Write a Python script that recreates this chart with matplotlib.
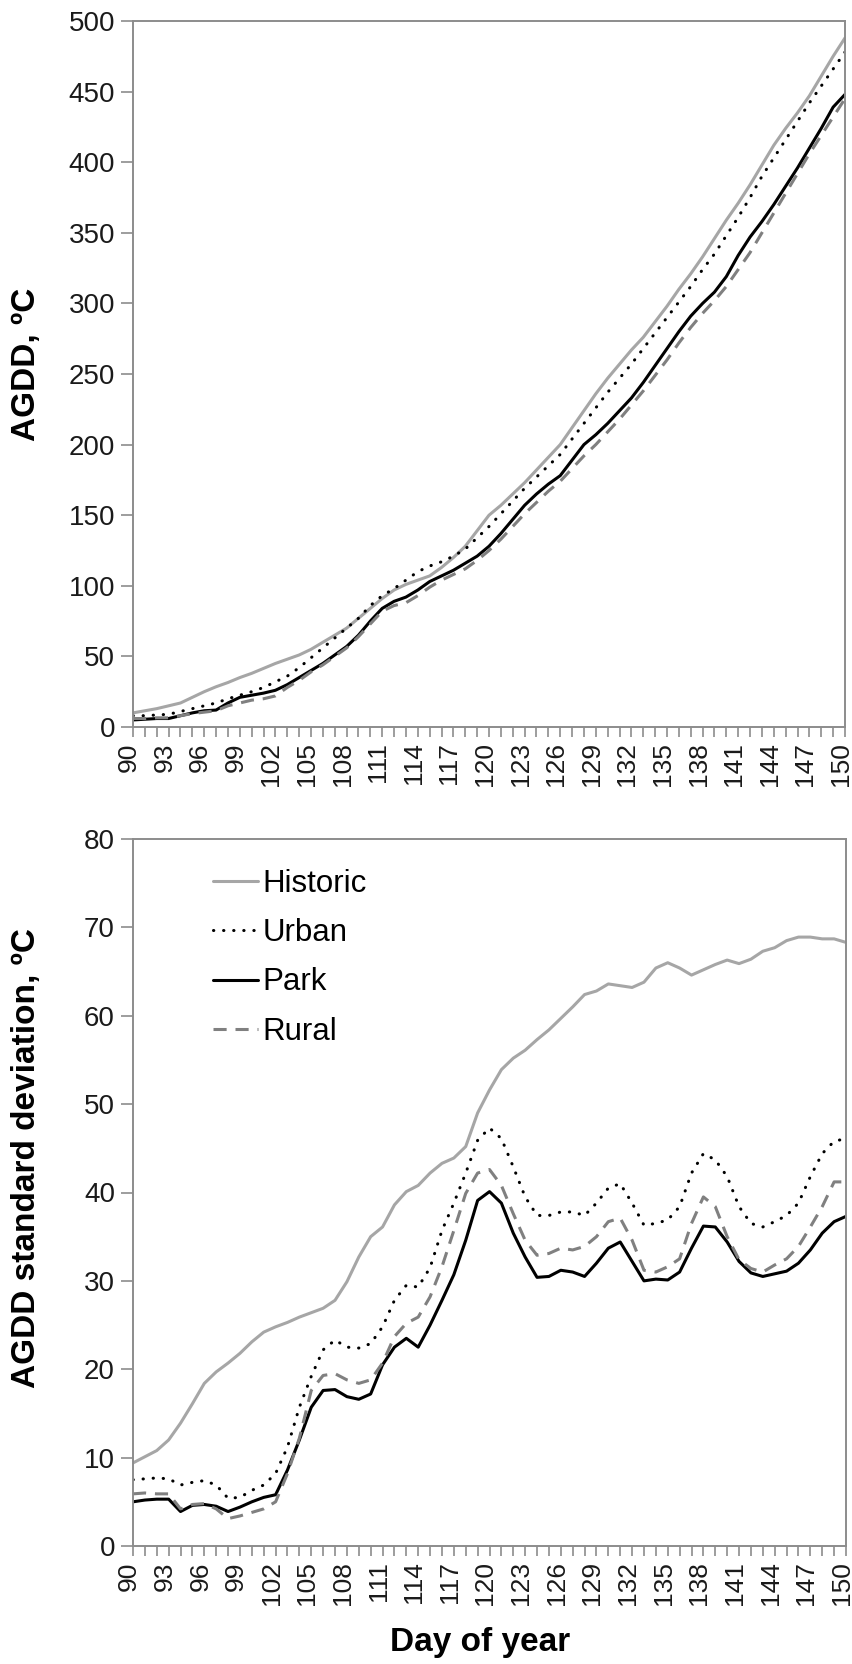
import numpy as np
import matplotlib
matplotlib.use("Agg")
import matplotlib.pyplot as plt
import matplotlib.transforms as mtransforms
from matplotlib.ticker import MultipleLocator

plt.rcParams['font.family'] = ['Liberation Sans', 'DejaVu Sans']

days = np.arange(90, 151)

# accumulated growing degree days, deg C
agdd_historic = [10, 11.5, 13, 15, 17, 21, 25, 28.5, 31.5, 35, 38, 41.5, 45, 48, 51, 55, 60, 65, 70, 77,
                 84, 91, 97, 101, 104, 107, 113, 120, 128, 139, 150, 157, 165, 173, 182, 191, 200, 212, 224, 236,
                 247, 257, 267, 276, 287, 298, 310, 321, 333, 346, 359, 371, 384, 398, 412, 424, 435, 447, 461, 475,
                 488]
agdd_urban = [8, 8, 8.5, 9, 11, 13, 15, 17, 20, 22.5, 25, 28, 32, 36, 42, 49, 56, 63, 70, 77,
              86, 93, 98, 104, 110, 114, 117, 121, 126, 134, 142, 151, 160, 169, 177, 185, 193, 204, 215, 226,
              237, 247, 257, 268, 279, 290, 301, 312, 324, 335, 348, 361, 375, 390, 403, 416, 429, 442, 454, 466,
              478]
agdd_park = [5, 5.5, 6, 6, 8, 10, 11.5, 12, 17, 21, 22.5, 24, 26, 30, 35, 40, 45, 51, 57, 65,
             75, 84, 89, 92, 97, 103, 107, 111, 116, 121, 128, 137, 147, 157, 165, 172, 178, 189, 200, 207,
             215, 224, 233, 244, 256, 268, 280, 291, 300, 308, 319, 334, 347, 358, 370, 383, 396, 410, 424, 439,
             448]
agdd_rural = [6, 6, 6.5, 6.5, 8, 9.5, 10.5, 11.5, 15, 17, 19, 20, 22, 28, 33, 39, 44, 50, 56, 64,
              73, 82, 86, 88, 93, 99, 104, 108, 112, 118, 125, 133, 142, 151, 159, 167, 174, 183, 192, 200,
              209, 218, 228, 238, 249, 260, 272, 283, 293, 302, 312, 324, 336, 350, 364, 378, 392, 406, 419, 432,
              445]

# standard deviation of AGDD, deg C
sd_historic = [9.4, 10.1, 10.8, 12.0, 13.9, 16.1, 18.4, 19.7, 20.7, 21.8, 23.1, 24.2, 24.8, 25.3, 25.9, 26.4,
               26.9, 27.8, 29.9, 32.7, 35.0, 36.1, 38.6, 40.1, 40.8, 42.2, 43.3, 43.9, 45.2, 49.0, 51.6, 53.9,
               55.2, 56.1, 57.3, 58.4, 59.7, 61.0, 62.4, 62.8, 63.6, 63.4, 63.2, 63.8, 65.4, 66.0, 65.4, 64.6,
               65.2, 65.8, 66.3, 65.9, 66.4, 67.3, 67.7, 68.5, 68.9, 68.9, 68.7, 68.7, 68.3]
sd_urban = [7.5, 7.6, 7.7, 7.6, 6.9, 7.2, 7.4, 6.9, 5.4, 5.5, 6.3, 6.9, 8.2, 11.2, 15.7, 19.2,
            22.2, 23.3, 22.5, 22.4, 22.9, 24.8, 27.8, 29.5, 29.3, 31.5, 35.7, 38.8, 42.2, 45.9, 47.3, 46.1,
            42.9, 39.5, 37.4, 37.4, 37.8, 37.8, 37.4, 38.8, 40.5, 41.0, 38.8, 36.3, 36.5, 36.9, 38.4, 42.2,
            44.4, 43.7, 41.8, 38.4, 36.5, 36.1, 36.7, 37.4, 38.8, 41.8, 44.4, 45.8, 46.1]
sd_park = [5.0, 5.2, 5.3, 5.3, 3.9, 4.6, 4.7, 4.5, 3.9, 4.4, 5.0, 5.5, 5.8, 8.6, 12.0, 15.7,
           17.6, 17.7, 16.9, 16.6, 17.2, 20.5, 22.5, 23.5, 22.5, 25.0, 27.8, 30.7, 34.6, 39.1, 40.1, 38.8,
           35.4, 32.7, 30.4, 30.5, 31.2, 31.0, 30.5, 32.0, 33.7, 34.4, 32.2, 30.0, 30.2, 30.1, 31.0, 33.7,
           36.2, 36.1, 34.4, 32.2, 30.9, 30.5, 30.8, 31.1, 32.0, 33.5, 35.4, 36.7, 37.3]
sd_rural = [5.9, 6.0, 5.9, 5.9, 4.2, 4.7, 4.8, 4.2, 3.1, 3.4, 3.8, 4.2, 5.0, 8.2, 12.2, 17.6,
            19.3, 19.5, 18.8, 18.4, 18.8, 20.7, 23.7, 25.2, 25.9, 28.2, 31.6, 35.7, 39.9, 42.2, 42.6, 40.8,
            37.6, 34.6, 32.9, 33.1, 33.7, 33.5, 33.9, 35.0, 36.7, 37.1, 34.6, 31.2, 31.0, 31.6, 32.5, 36.5,
            39.5, 38.4, 35.0, 32.4, 31.4, 31.0, 31.8, 32.5, 33.9, 36.1, 38.4, 41.2, 41.2]

labels = ["Historic", "Urban", "Park", "Rural"]

W, H = 853, 1664
fig = plt.figure(figsize=(W / 100, H / 100), dpi=100)


def px_axes(left, top, right, bottom):
    return fig.add_axes([left / W, 1 - bottom / H, (right - left) / W, (bottom - top) / H])


ax1 = px_axes(133, 21, 845, 727)
ax2 = px_axes(133, 839, 846, 1546)

lw = 2.2
styles = [
    dict(color="#a6a6a6", lw=lw, ls="-", solid_capstyle="round"),
    dict(color="black", lw=lw, ls=(0, (0.1, 3.2)), dash_capstyle="round"),
    dict(color="black", lw=lw, ls="-", solid_capstyle="round"),
    dict(color="#808080", lw=lw, ls=(0, (4.3, 2.9)), dash_capstyle="butt"),
]

# nudge rotated x labels a little left of their ticks, as in the original
shift = mtransforms.ScaledTranslation(-4 / 100, 0, fig.dpi_scale_trans)

for ax, series, ymax, ystep in [
    (ax1, [agdd_historic, agdd_urban, agdd_park, agdd_rural], 500, 50),
    (ax2, [sd_historic, sd_urban, sd_park, sd_rural], 80, 10),
]:
    for s, st, lab in zip(series, styles, labels):
        ax.plot(days, s, label=lab, **st)

    ax.set_xlim(90, 150)
    ax.set_ylim(0, ymax)
    ax.xaxis.set_major_locator(MultipleLocator(3))
    ax.xaxis.set_minor_locator(MultipleLocator(1))
    ax.yaxis.set_major_locator(MultipleLocator(ystep))
    for sp in ax.spines.values():
        sp.set_color("#8c8c8c")
        sp.set_linewidth(1.4)
    ax.tick_params(axis="x", which="both", direction="out", length=7, width=1.2,
                   color="#8c8c8c", labelsize=19, labelrotation=90, pad=4, labelcolor="#1a1a1a")
    ax.tick_params(axis="y", direction="out", length=9, width=1.2,
                   color="#8c8c8c", labelsize=20, pad=4, labelcolor="#1a1a1a")
    for lbl in ax.get_xticklabels():
        lbl.set_transform(lbl.get_transform() + shift)

leg = ax2.legend(loc="upper left", bbox_to_anchor=(0.112, 0.958), frameon=False,
                 fontsize=22.5, handlelength=1.45, handletextpad=0.15, labelspacing=0.62,
                 borderpad=0, borderaxespad=0)

fig.text(27 / W, 1 - 364 / H, "AGDD, ºC", rotation=90, ha="center", va="center",
         fontsize=24, fontweight="bold")
fig.text(27 / W, 1 - 1158 / H, "AGDD standard deviation, ºC", rotation=90, ha="center",
         va="center", fontsize=24, fontweight="bold")
fig.text(480 / W, 1 - 1643 / H, "Day of year", ha="center", va="center",
         fontsize=24, fontweight="bold")

fig.savefig("out.png", dpi=100, facecolor="white")
